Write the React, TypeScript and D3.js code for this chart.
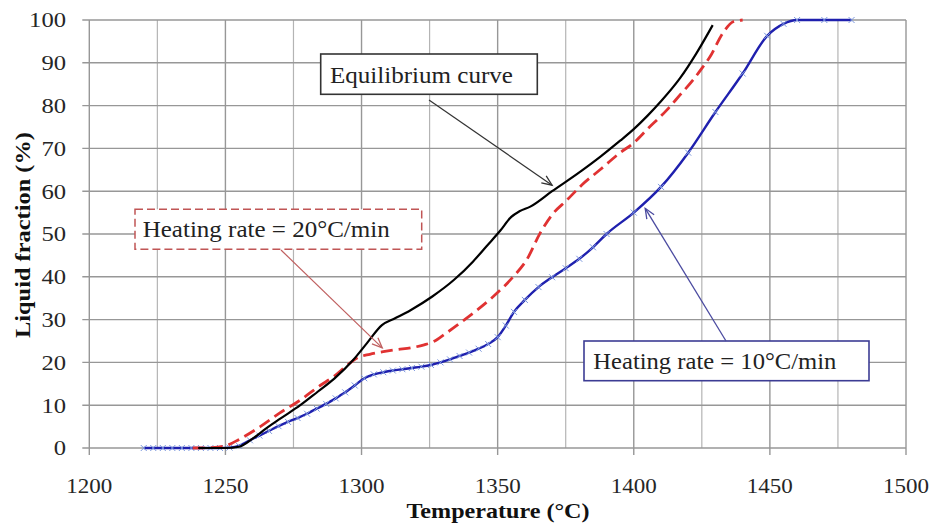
import React from 'react';
import * as d3 from 'd3';

const W = 933;
const H = 524;

const xTicks = [1200, 1250, 1300, 1350, 1400, 1450, 1500];
const xMinorGrid = [1225, 1275, 1325, 1375, 1425, 1475];
const yTicks = [0, 10, 20, 30, 40, 50, 60, 70, 80, 90, 100];

// Equilibrium curve
const eqT = [1240, 1250, 1255, 1260, 1265, 1270, 1277.5, 1284, 1290, 1297, 1302, 1307.5, 1312, 1318, 1326, 1334, 1341, 1346, 1351, 1355, 1358, 1362, 1370, 1380, 1388, 1395, 1400, 1405, 1410, 1417, 1423, 1429];
const eqV = [0, 0, 0.3, 2.2, 4.6, 6.8, 10.0, 13.2, 16.2, 20.6, 24.5, 28.7, 30.2, 32.2, 35.4, 39.3, 43.6, 47.2, 50.8, 54.0, 55.3, 56.4, 60.0, 64.4, 68.2, 71.8, 74.5, 77.6, 81.0, 86.4, 92.2, 98.8];

// Heating rate = 20°C/min
const r20T = [1238, 1245, 1250, 1255, 1262.8, 1270, 1277.5, 1284.8, 1290, 1295, 1298.3, 1303, 1308, 1313, 1318, 1323, 1326.3, 1331, 1336.2, 1342, 1348.4, 1355.7, 1360.7, 1365.6, 1370, 1375.4, 1381, 1387.6, 1395, 1399.8, 1405, 1412.2, 1417, 1421.8, 1425, 1428, 1432.8, 1436.5, 1440];
const r20V = [0, 0.1, 0.5, 2, 5, 8.2, 11.2, 14.6, 16.8, 19.5, 21, 21.9, 22.5, 23, 23.4, 24.1, 24.8, 26.8, 29.2, 32, 35.4, 40, 44, 50.2, 54.5, 57.9, 61.5, 65, 69, 71.2, 74.5, 79, 82.5, 86, 88.7, 91.4, 97, 99.6, 100];

// Heating rate = 10°C/min (measured points, drawn with x markers)
const r10T = [1220, 1223.5, 1227, 1230.5, 1234, 1237.5, 1241, 1244.5, 1248, 1251.5, 1255, 1259, 1262.5, 1266, 1269.5, 1273, 1276.5, 1280, 1283.5, 1287, 1290.5, 1294, 1297.5, 1301, 1304.5, 1308, 1311.5, 1315, 1318.5, 1322, 1325.5, 1329, 1332.5, 1336, 1339.5, 1343, 1346.5, 1350, 1353, 1356, 1360, 1365, 1370, 1375, 1380, 1385, 1390, 1400, 1410, 1420, 1430, 1440, 1449, 1455, 1460, 1470, 1480];
const r10V = [0, 0, 0, 0, 0, 0, 0, 0, 0, 0.1, 0.5, 1.8, 2.9, 4.0, 5.1, 6.1, 7.0, 8.0, 9.2, 10.3, 11.6, 13.0, 14.6, 16.3, 17.2, 17.7, 18.1, 18.4, 18.7, 19.0, 19.4, 20.0, 20.7, 21.5, 22.3, 23.2, 24.3, 25.9, 28.6, 31.8, 34.6, 37.6, 39.9, 42, 44.2, 46.9, 50, 55, 61, 69, 78.5, 87.5, 96.3, 99.1, 100, 100, 100];

const FONT = "'Liberation Serif', 'Times New Roman', Times, serif";

function arrowHead(x1: number, y1: number, x2: number, y2: number) {
  const a = Math.atan2(y2 - y1, x2 - x1);
  const L = 11;
  const s = 0.4;
  const p1 = [x2 - L * Math.cos(a - s), y2 - L * Math.sin(a - s)];
  const p2 = [x2 - L * Math.cos(a + s), y2 - L * Math.sin(a + s)];
  return `M${p1[0]},${p1[1]}L${x2},${y2}L${p2[0]},${p2[1]}`;
}

export default function App() {
  const x = d3.scaleLinear().domain([1200, 1500]).range([89.3, 906]);
  const y = d3.scaleLinear().domain([0, 100]).range([448, 20]);

  const mkLine = (T: number[], V: number[]) =>
    d3
      .line<number>()
      .x((d) => x(d))
      .y((_, i) => y(V[i]))
      .curve(d3.curveMonotoneX)(T) || '';

  const x0 = x.range()[0];
  const x1 = x.range()[1];
  const yTop = y.range()[1];
  const yBot = y.range()[0];

  const eqArrow = { x1: 429, y1: 100, x2: x(1370), y2: y(61.4) };
  const r20Arrow = { x1: 281, y1: 250, x2: x(1307.6), y2: y(23.4) };
  const r10Arrow = { x1: 726, y1: 341, x2: x(1404.2), y2: y(56) };

  return (
    <svg
      width={W}
      height={H}
      style={{ position: 'absolute', left: 0, top: 0, background: '#fff' }}
      fontFamily={FONT}
    >
      <rect x={0} y={0} width={W} height={H} fill="#fff" />
      {xMinorGrid.map((t) => (
        <line key={'mg' + t} x1={x(t)} x2={x(t)} y1={yTop} y2={yBot} stroke="#b4b4b4" strokeWidth={1.2} />
      ))}
      {xTicks.map((t) => (
        <line key={'xg' + t} x1={x(t)} x2={x(t)} y1={yTop} y2={yBot + 7} stroke="#979797" strokeWidth={1.4} />
      ))}
      {yTicks.map((v) => (
        <line key={'yg' + v} x1={x0 - 7} x2={x1} y1={y(v)} y2={y(v)} stroke="#979797" strokeWidth={1.4} />
      ))}

      {yTicks.map((v) => (
        <text
          key={'yl' + v}
          x={66}
          y={y(v)}
          dy="0.35em"
          textAnchor="end"
          fontSize={21}
          fill="#262626"
          textLength={String(v).length * 12.3}
          lengthAdjust="spacingAndGlyphs"
        >
          {v}
        </text>
      ))}
      {xTicks.map((t) => (
        <text
          key={'xl' + t}
          x={x(t)}
          y={493}
          textAnchor="middle"
          fontSize={21}
          fill="#262626"
          textLength={46}
          lengthAdjust="spacingAndGlyphs"
        >
          {t}
        </text>
      ))}

      <text
        x={498}
        y={518}
        textAnchor="middle"
        fontSize={22}
        fontWeight="bold"
        fill="#111"
        textLength={183}
        lengthAdjust="spacingAndGlyphs"
      >
        Temperature (°C)
      </text>
      <text
        transform={`translate(30,235) rotate(-90)`}
        textAnchor="middle"
        fontSize={22}
        fontWeight="bold"
        fill="#111"
        textLength={206}
        lengthAdjust="spacingAndGlyphs"
      >
        Liquid fraction (%)
      </text>

      <path d={mkLine(r10T, r10V)} fill="none" stroke="#1f20ae" strokeWidth={2.4} />
      {r10T.map((t, i) => {
        const cx = x(t);
        const cy = y(r10V[i]);
        const s = 3;
        return (
          <path
            key={'m' + i}
            d={`M${cx - s},${cy - s}L${cx + s},${cy + s}M${cx - s},${cy + s}L${cx + s},${cy - s}`}
            stroke="#7c98de"
            strokeWidth={1}
            fill="none"
          />
        );
      })}
      <path d={mkLine(r20T, r20V)} fill="none" stroke="#e03232" strokeWidth={2.8} strokeDasharray="12,6" />
      <path d={mkLine(eqT, eqV)} fill="none" stroke="#000" strokeWidth={2.2} />

      <rect x={320.7} y={54} width={216.6} height={40.3} fill="#fff" stroke="#333" strokeWidth={1.6} />
      <text x={330} y={82.5} fontSize={24} fill="#222" textLength={183} lengthAdjust="spacingAndGlyphs">
        Equilibrium curve
      </text>

      <rect
        x={135}
        y={209.3}
        width={286.7}
        height={40}
        fill="#fff"
        stroke="#c05555"
        strokeWidth={1.5}
        strokeDasharray="8,4"
      />
      <text x={142.7} y={236.7} fontSize={24} fill="#222" textLength={247} lengthAdjust="spacingAndGlyphs">
        Heating rate = 20°C/min
      </text>

      <rect x={584} y={341} width={285} height={39.7} fill="#fff" stroke="#3c3c94" strokeWidth={1.6} />
      <text x={593.3} y={369.3} fontSize={23} fill="#222" textLength={243} lengthAdjust="spacingAndGlyphs">
        Heating rate = 10°C/min
      </text>

      <line {...eqArrow} stroke="#333" strokeWidth={1.2} />
      <path d={arrowHead(eqArrow.x1, eqArrow.y1, eqArrow.x2, eqArrow.y2)} fill="none" stroke="#333" strokeWidth={1.3} />
      <line {...r20Arrow} stroke="#c06060" strokeWidth={1.2} />
      <path d={arrowHead(r20Arrow.x1, r20Arrow.y1, r20Arrow.x2, r20Arrow.y2)} fill="none" stroke="#c06060" strokeWidth={1.3} />
      <line {...r10Arrow} stroke="#4a4aa0" strokeWidth={1.3} />
      <path d={arrowHead(r10Arrow.x1, r10Arrow.y1, r10Arrow.x2, r10Arrow.y2)} fill="none" stroke="#4a4aa0" strokeWidth={1.3} />
    </svg>
  );
}
